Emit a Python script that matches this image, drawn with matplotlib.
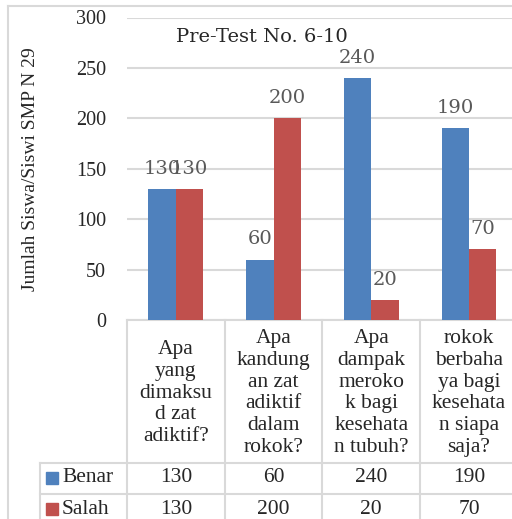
import matplotlib
matplotlib.use('Agg')
import matplotlib.pyplot as plt
from matplotlib.lines import Line2D
from matplotlib.transforms import blended_transform_factory

categories = ['Apa\nyang\ndimaksu\nd zat\nadiktif?',
              'Apa\nkandung\nan zat\nadiktif\ndalam\nrokok?',
              'Apa\ndampak\nmeroko\nk bagi\nkesehata\nn tubuh?',
              'rokok\nberbaha\nya bagi\nkesehata\nn siapa\nsaja?']
series_names = ['Benar', 'Salah']
benar = [130, 60, 240, 190]
salah = [130, 200, 20, 70]
colors = ['#4F81BD', '#C0504D']
title = 'Pre-Test No. 6-10'
ylabel = 'Jumlah Siswa/Siswi SMP N 29'

W, H = 512, 519
serif = 'Liberation Serif'
grid_c = '#D9D9D9'

fig = plt.figure(figsize=(W / 100, H / 100), dpi=100)

def fx(px):
    return px / W

def fy(py):
    return 1 - py / H

ax = fig.add_axes([fx(127), fy(320), fx(517.8 - 127), (320 - 17.5) / H])
n = len(categories)
xs = list(range(n))
bw = 0.28
b1 = ax.bar([x - bw / 2 for x in xs], benar, bw, color=colors[0], zorder=3)
b2 = ax.bar([x + bw / 2 for x in xs], salah, bw, color=colors[1], zorder=3)
for bars in (b1, b2):
    ax.bar_label(bars, padding=8, fontsize=14, family='DejaVu Serif', color='#595959')

ax.set_xlim(-0.5, n - 0.5)
ax.set_ylim(0, 300)
ax.set_yticks(range(0, 301, 50))
ax.tick_params(axis='y', length=0, pad=15, labelsize=14.5)
for t in ax.get_yticklabels():
    t.set_family(serif)
    t.set_color('#262626')
ax.set_xticks([])
ax.grid(axis='y', color=grid_c, linewidth=1.5, zorder=0)
for s in ['top', 'right', 'left']:
    ax.spines[s].set_visible(False)
ax.spines['bottom'].set_color(grid_c)
ax.spines['bottom'].set_linewidth(1.5)

fig.text(fx(31), fy(169), ylabel, rotation=90, ha='center', va='center',
         family=serif, fontsize=14, color='#262626')
fig.text(fx(262), fy(37), title, ha='center', va='center',
         family='DejaVu Serif', fontsize=14, color='#262626')

# outer chart frame (partly cut off)
fig.add_artist(Line2D([fx(8), 1], [fy(6), fy(6)], color=grid_c, lw=1.5))
fig.add_artist(Line2D([fx(8), fx(8)], [fy(6), 0], color=grid_c, lw=1.5))

# data table below the axis
tr = blended_transform_factory(ax.transData, fig.transFigure)
for i in range(n + 1):
    fig.add_artist(Line2D([i - 0.5, i - 0.5], [fy(320), 0], color=grid_c,
                          lw=1.5, transform=tr))
for py in (463, 494):
    fig.add_artist(Line2D([fx(40), 1], [fy(py), fy(py)], color=grid_c, lw=1.5))
fig.add_artist(Line2D([fx(40), fx(40)], [fy(463), 0], color=grid_c, lw=1.5))

for i, cat in enumerate(categories):
    fig.text(i, fy(393), cat, transform=tr, ha='center', va='center',
             multialignment='center', family=serif, fontsize=15.5,
             linespacing=1.2, color='#262626')

rows = [benar, salah]
row_y = [478, 509]
for name, vals, c, py in zip(series_names, rows, colors, row_y):
    fig.patches.append(plt.Rectangle((fx(46), fy(py + 6)), fx(12), 12 / H,
                                     color=c, transform=fig.transFigure))
    fig.text(fx(62), fy(py), name, ha='left', va='center', family=serif,
             fontsize=15.5, color='#262626')
    for i, v in enumerate(vals):
        fig.text(i, fy(py), str(v), transform=tr, ha='center', va='center',
                 family=serif, fontsize=15.5, color='#262626')

fig.savefig('out.png', dpi=100)
